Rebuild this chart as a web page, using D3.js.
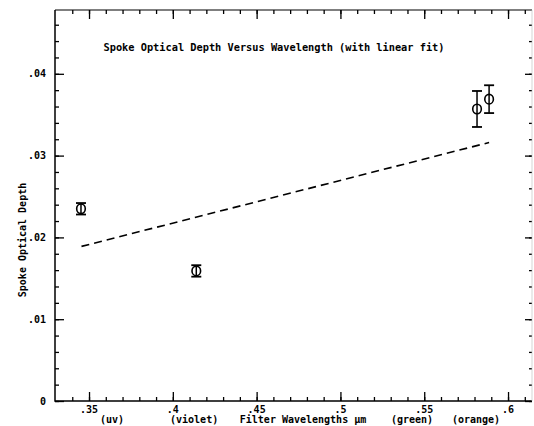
<!DOCTYPE html>
<html>
<head>
<meta charset="utf-8">
<script src="https://cdn.jsdelivr.net/npm/d3@7"></script>
<style>
  body { margin: 0; background: #fff; }
  text { font-family: "DejaVu Sans Mono", monospace; font-weight: bold; fill: #000; }
</style>
</head>
<body>
<svg></svg>
<script>
var width = 534,
    height = 426;

// Measured points (wavelength in µm, optical depth, error)
var wavelengths = [0.3452, 0.4140, 0.5815, 0.5887];
var depths = [0.0235, 0.0159, 0.0357, 0.0369];
var errors = [0.0007, 0.0007, 0.0022, 0.0017];

// Linear fit end points
var fitX = [0.3455, 0.5887];
var fitY = [0.0189, 0.0316];

var xTicks = [0.35, 0.4, 0.45, 0.5, 0.55, 0.6];
var xTickLabels = ['.35', '.4', '.45', '.5', '.55', '.6'];
var yTicks = [0, 0.01, 0.02, 0.03, 0.04];
var yTickLabels = ['0', '.01', '.02', '.03', '.04'];
var filterNames = ['(uv)', '(violet)', '(green)', '(orange)'];
var filterLabelX = [0.3637, 0.4127, 0.5427, 0.5809];

var margin = {left: 55, top: 10, right: 2, bottom: 25};

var x = d3.scaleLinear()
    .domain([0.3297, 0.6143])
    .range([margin.left, width - margin.right]);

var y = d3.scaleLinear()
    .domain([0, 0.0478])
    .range([height - margin.bottom, margin.top]);

var svg = d3.select('svg')
    .attr('width', width)
    .attr('height', height);

var minorX = d3.range(0.34, 0.6145, 0.01);
var minorY = d3.range(0, 0.0478, 0.002);

// Bottom axis
svg.append('g')
    .attr('transform', 'translate(0,' + y(0) + ')')
    .call(d3.axisBottom(x).tickValues(minorX).tickSize(-4).tickFormat(''))
    .call(function(g) { g.select('.domain').remove(); });
svg.append('g')
    .attr('transform', 'translate(0,' + y(0) + ')')
    .call(d3.axisBottom(x).tickValues(xTicks).tickSize(-9).tickFormat(''))
    .call(function(g) { g.select('.domain').remove(); });

// Top axis
svg.append('g')
    .attr('transform', 'translate(0,' + margin.top + ')')
    .call(d3.axisTop(x).tickValues(minorX).tickSize(-4).tickFormat(''))
    .call(function(g) { g.select('.domain').remove(); });
svg.append('g')
    .attr('transform', 'translate(0,' + margin.top + ')')
    .call(d3.axisTop(x).tickValues(xTicks).tickSize(-9).tickFormat(''))
    .call(function(g) { g.select('.domain').remove(); });

// Left axis
svg.append('g')
    .attr('transform', 'translate(' + margin.left + ',0)')
    .call(d3.axisLeft(y).tickValues(minorY).tickSize(-4).tickFormat(''))
    .call(function(g) { g.select('.domain').remove(); });
svg.append('g')
    .attr('transform', 'translate(' + margin.left + ',0)')
    .call(d3.axisLeft(y).tickValues(yTicks).tickSize(-9).tickFormat(''))
    .call(function(g) { g.select('.domain').remove(); });

// Right axis
svg.append('g')
    .attr('transform', 'translate(' + (width - margin.right) + ',0)')
    .call(d3.axisRight(y).tickValues(minorY).tickSize(-3).tickFormat(''))
    .call(function(g) { g.select('.domain').remove(); });
svg.append('g')
    .attr('transform', 'translate(' + (width - margin.right) + ',0)')
    .call(d3.axisRight(y).tickValues(yTicks).tickSize(-7).tickFormat(''))
    .call(function(g) { g.select('.domain').remove(); });

svg.selectAll('.tick line').attr('stroke', '#000').attr('stroke-width', 1.3);

// Frame
svg.append('path')
    .attr('d', 'M' + margin.left + ',' + margin.top + 'V' + y(0) + 'H' + (width - margin.right))
    .attr('fill', 'none').attr('stroke', '#000').attr('stroke-width', 1.5);
svg.append('line')
    .attr('x1', margin.left).attr('x2', width - margin.right)
    .attr('y1', margin.top).attr('y2', margin.top)
    .attr('stroke', '#000').attr('stroke-width', 1.2);
svg.append('line')
    .attr('x1', width - margin.right).attr('x2', width - margin.right)
    .attr('y1', margin.top).attr('y2', y(0))
    .attr('stroke', '#bbb').attr('stroke-width', 0.6);

// Tick labels
svg.selectAll('.xlab')
    .data(xTicks)
    .enter().append('text')
    .attr('x', function(d) { return x(d); })
    .attr('y', 413)
    .attr('text-anchor', 'middle')
    .style('font-size', '10px')
    .text(function(d, i) { return xTickLabels[i]; });

svg.selectAll('.ylab')
    .data(yTicks)
    .enter().append('text')
    .attr('x', margin.left - 9)
    .attr('y', function(d) { return y(d) + 3.5; })
    .attr('text-anchor', 'end')
    .style('font-size', '10px')
    .text(function(d, i) { return yTickLabels[i]; });

// Filter names
svg.selectAll('.flab')
    .data(filterNames)
    .enter().append('text')
    .attr('x', function(d, i) { return x(filterLabelX[i]); })
    .attr('y', 423)
    .attr('text-anchor', 'middle')
    .style('font-size', '10px')
    .text(function(d) { return d; });

svg.append('text')
    .attr('x', 303)
    .attr('y', 423)
    .attr('text-anchor', 'middle')
    .style('font-size', '10px')
    .text('Filter Wavelengths µm');

svg.append('text')
    .attr('transform', 'translate(26,' + 240 + ')rotate(-90)')
    .attr('text-anchor', 'middle')
    .style('font-size', '10px')
    .text('Spoke Optical Depth');

svg.append('text')
    .attr('x', 274)
    .attr('y', 51)
    .attr('text-anchor', 'middle')
    .style('font-size', '10.3px')
    .text('Spoke Optical Depth Versus Wavelength (with linear fit)');

// Linear fit
svg.append('line')
    .attr('x1', x(fitX[0])).attr('y1', y(fitY[0]))
    .attr('x2', x(fitX[1])).attr('y2', y(fitY[1]))
    .attr('stroke', '#000')
    .attr('stroke-width', 1.6)
    .attr('stroke-dasharray', '8,5');

// Error bars and points
var pts = svg.selectAll('.pt')
    .data(wavelengths)
    .enter().append('g');

pts.append('line')
    .attr('x1', function(d) { return x(d); })
    .attr('x2', function(d) { return x(d); })
    .attr('y1', function(d, i) { return y(depths[i] - errors[i]); })
    .attr('y2', function(d, i) { return y(depths[i] + errors[i]); })
    .attr('stroke', '#000').attr('stroke-width', 1.5);

[1, -1].forEach(function(s) {
    pts.append('line')
        .attr('x1', function(d) { return x(d) - 5; })
        .attr('x2', function(d) { return x(d) + 5; })
        .attr('y1', function(d, i) { return y(depths[i] + s * errors[i]); })
        .attr('y2', function(d, i) { return y(depths[i] + s * errors[i]); })
        .attr('stroke', '#000').attr('stroke-width', 1.8);
});

pts.append('ellipse')
    .attr('cx', function(d) { return x(d); })
    .attr('cy', function(d, i) { return y(depths[i]); })
    .attr('rx', 4.3).attr('ry', 4.8)
    .attr('fill', 'none').attr('stroke', '#000').attr('stroke-width', 1.6);
</script>
</body>
</html>
